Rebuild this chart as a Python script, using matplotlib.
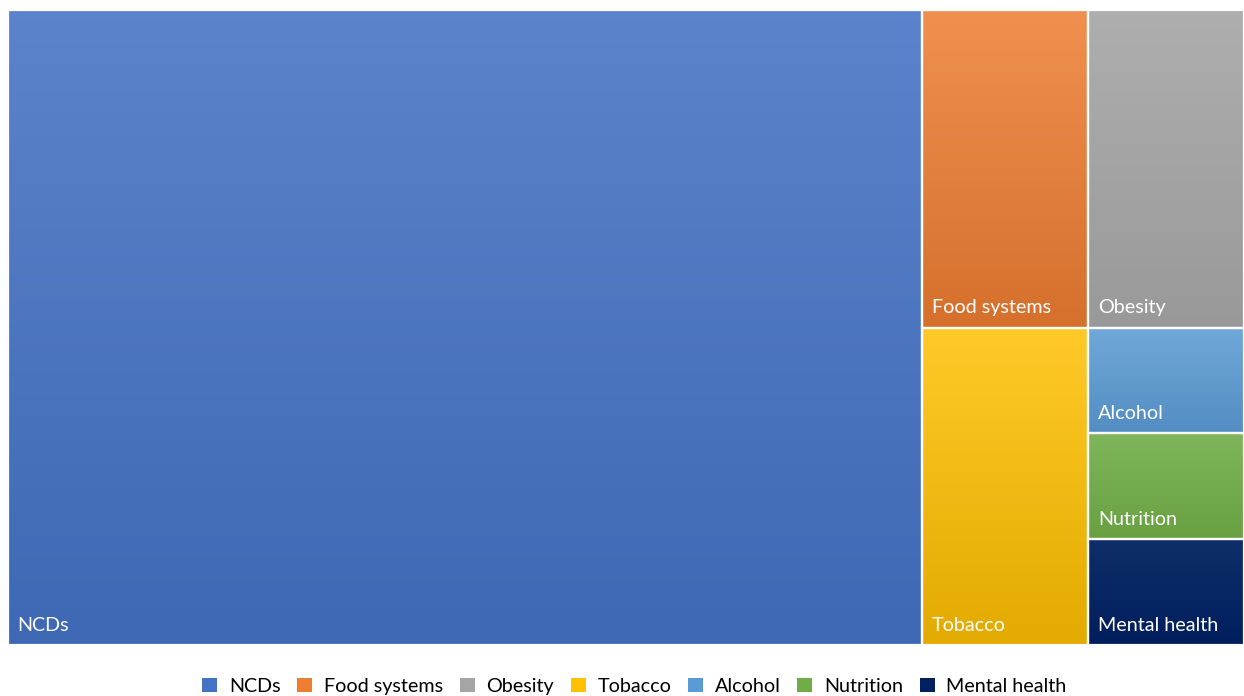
import matplotlib.pyplot as plt
import matplotlib.colors as mcolors
from matplotlib.patches import Rectangle, Patch
import numpy as np

plt.rcParams['font.family'] = ['Lato', 'DejaVu Sans']

labels = ['NCDs', 'Food systems', 'Obesity', 'Tobacco', 'Alcohol', 'Nutrition', 'Mental health']
values = [176, 16, 15, 16, 5, 5, 5]
colors = ['#4472C4', '#ED7D31', '#A5A5A5', '#FFC000', '#5B9BD5', '#70AD47', '#002060']

# layout groups (indices into the lists): big block, then two columns on the right
right_cols = [[1, 3], [2, 4, 5, 6]]


def shade(c, amt):
    rgb = np.array(mcolors.to_rgb(c))
    if amt > 0:
        return rgb + (1 - rgb) * amt
    return rgb * (1 + amt)


def layout():
    total = sum(values)
    rects = {}
    w0 = values[0] / total
    rects[0] = (0, 0, w0, 1)
    rest = total - values[0]
    x = w0
    for col in right_cols:
        csum = sum(values[i] for i in col)
        w = (1 - w0) * csum / rest
        top = 1.0
        for i in col:
            h = values[i] / csum
            rects[i] = (x, top - h, w, h)
            top -= h
        x += w
    return rects


fig = plt.figure(figsize=(12.44, 6.96), dpi=100)
ax = fig.add_axes([8 / 1244, 51 / 696, 1236 / 1244, 635 / 696])
ax.set_xlim(0, 1)
ax.set_ylim(0, 1)
ax.axis('off')

rects = layout()
for i, (x, y, w, h) in rects.items():
    lum = max(mcolors.to_rgb(colors[i]))
    top_c = shade(colors[i], 0.16 * lum)
    bot_c = shade(colors[i], -0.11 * lum)
    t = np.linspace(0, 1, 200)[:, None]
    grad = top_c[None, :] * (1 - t) + bot_c[None, :] * t
    ax.imshow(grad[:, None, :], extent=(x, x + w, y, y + h), aspect='auto',
              interpolation='bilinear', zorder=1)
    ax.add_patch(Rectangle((x, y), w, h, fill=False, edgecolor='white',
                           linewidth=1.6, zorder=2))
    ax.annotate(labels[i], (x, y), xytext=(7, 8), textcoords='offset points',
                color='white', fontsize=14.2, ha='left', va='bottom', zorder=3)

ax.set_xlim(0, 1)
ax.set_ylim(0, 1)

handles = [Patch(facecolor=c, edgecolor='none', label=l)
           for l, c in zip(labels, colors)]
fig.legend(handles=handles, loc='lower center', bbox_to_anchor=(0.51, -0.024),
           ncol=7, frameon=False, fontsize=14.2, handlelength=0.75,
           handleheight=0.75, handletextpad=0.6, columnspacing=0.85)

fig.savefig('out.png', dpi=100)
